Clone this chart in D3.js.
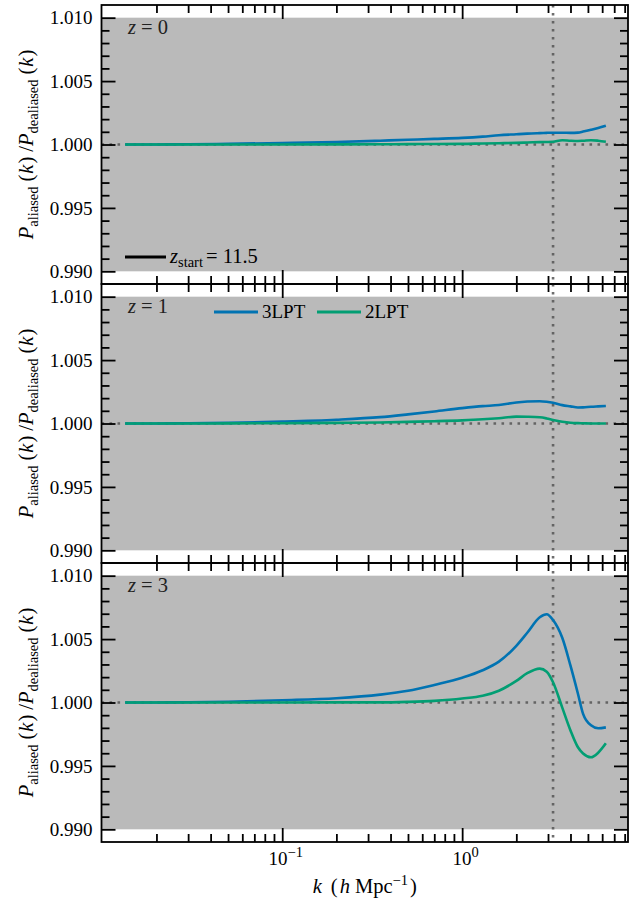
<!DOCTYPE html>
<html>
<head>
<meta charset="utf-8">
<script src="https://cdn.jsdelivr.net/npm/d3@7"></script>
<style>
  html, body { margin: 0; padding: 0; background: #fff; }
  svg { display: block; font-family: "Liberation Serif", "Times New Roman", serif; }
</style>
</head>
<body>
<svg id="chart" width="644" height="902"></svg>
<script>
// ---------------- data ----------------
const kValues = [0.0134, 0.02, 0.03, 0.05, 0.1, 0.2, 0.35, 0.5, 0.7, 1.0, 1.3, 1.6, 2.0, 2.3, 2.7, 2.95, 3.2, 3.6, 4.0, 4.4, 4.7, 5.2, 5.7, 6.29];

const z0_3LPT = [1.0000, 1.0000, 1.00002, 1.00005, 1.00012, 1.00020, 1.00030, 1.00037, 1.00044, 1.00052, 1.00062, 1.00073, 1.00081, 1.00086, 1.00090, 1.00092, 1.00093, 1.00093, 1.00092, 1.00094, 1.00102, 1.00116, 1.00130, 1.00148];
const z0_2LPT = [1.0000, 1.0000, 1.0000, 1.0000, 1.0000, 1.00001, 1.00002, 1.00003, 1.00004, 1.00005, 1.00008, 1.00010, 1.00013, 1.00016, 1.00019, 1.00020, 1.00022, 1.00034, 1.00030, 1.00028, 1.00030, 1.00034, 1.00030, 1.00022];

const z1_3LPT = [1.0000, 1.0000, 1.00002, 1.00005, 1.00015, 1.00030, 1.00050, 1.00072, 1.00095, 1.00121, 1.00137, 1.00146, 1.00166, 1.00173, 1.00176, 1.00172, 1.00164, 1.00145, 1.00135, 1.00126, 1.00127, 1.00132, 1.00135, 1.00138];
const z1_2LPT = [1.0000, 1.0000, 1.0000, 1.00001, 1.00002, 1.00005, 1.00008, 1.00013, 1.00018, 1.00025, 1.00033, 1.00042, 1.00054, 1.00053, 1.00049, 1.00040, 1.00028, 1.00014, 1.00006, 1.00003, 1.00002, 1.0000, 1.0000, 1.0000];

const z3_3LPT = [1.0000, 1.0000, 1.00002, 1.00006, 1.00018, 1.00034, 1.00062, 1.00092, 1.00138, 1.00195, 1.00254, 1.00322, 1.00447, 1.00550, 1.00672, 1.00696, 1.00650, 1.00510, 1.00290, 1.00069, 0.99910, 0.99820, 0.99797, 0.99804];
const z3_2LPT = [1.0000, 1.0000, 1.0000, 1.0000, 1.0000, 1.00001, 1.00001, 1.00005, 1.00013, 1.00031, 1.00053, 1.00093, 1.00170, 1.00231, 1.00267, 1.00243, 1.00160, 0.99960, 0.99780, 0.99647, 0.99598, 0.99568, 0.99604, 0.99678];

const panelLabels = ["0", "1", "3"];
const seriesNames = ["3LPT", "2LPT"];
const zStart = "11.5";
const kNyquist = 3.2;
const referenceValue = 1.0;
const bandRange = [0.990, 1.010];
const yDomain = [0.989, 1.011];
const xDomain = [0.0099, 8.35];
const yMajorTicks = [0.990, 0.995, 1.000, 1.005, 1.010];
const xMajorTicks = [0.1, 1];
const xTickExponents = ["−1", "0"];

const panelData = [
  [z0_3LPT, z0_2LPT],
  [z1_3LPT, z1_2LPT],
  [z3_3LPT, z3_2LPT]
];

// ---------------- layout ----------------
const colors = ["#0173b2", "#029e73"];
const svg = d3.select("#chart");
const L = 101.5, R = 628, T = 5, PH = 279;
const MAJ = 14, MIN = 8;
const FS = 19;     // tick labels
const FL = 20.5;   // labels
const FSUB = 14.5; // sub/superscripts

const x = d3.scaleLog().domain(xDomain).range([L, R]);

const yMinorTicks = d3.range(0, 21).map(i => +(0.990 + i * 0.001).toFixed(3)).filter(v => !yMajorTicks.some(m => Math.abs(m - v) < 1e-9));
const xMinorTicks = [];
[0.01, 0.1, 1].forEach(d => { for (let i = 2; i <= 9; i++) { const v = d * i; if (v > xDomain[0] && v < xDomain[1]) xMinorTicks.push(v); } });

panelData.forEach((series, p) => {
  const top = T + p * PH;
  const y = d3.scaleLinear().domain(yDomain).range([top + PH, top]);
  const g = svg.append("g");

  // gray band
  g.append("rect")
    .attr("x", L).attr("width", R - L)
    .attr("y", y(bandRange[1])).attr("height", y(bandRange[0]) - y(bandRange[1]))
    .attr("fill", "#bababa");

  // dotted reference lines
  g.append("line")
    .attr("x1", L).attr("x2", R)
    .attr("y1", y(referenceValue)).attr("y2", y(referenceValue))
    .attr("stroke", "#555").attr("stroke-opacity", 0.85).attr("stroke-width", 2.6)
    .attr("stroke-dasharray", "2.6,5.4");
  g.append("line")
    .attr("x1", x(kNyquist)).attr("x2", x(kNyquist))
    .attr("y1", top).attr("y2", top + PH)
    .attr("stroke", "#555").attr("stroke-opacity", 0.85).attr("stroke-width", 2.6)
    .attr("stroke-dasharray", "2.6,5.4");

  // curves
  const line = d3.line().x((d, i) => x(kValues[i])).y(d => y(d)).curve(d3.curveMonotoneX);
  series.forEach((vals, s) => {
    g.append("path").datum(vals)
      .attr("d", line)
      .attr("fill", "none")
      .attr("stroke", colors[s])
      .attr("stroke-width", 2.6)
      .attr("stroke-linejoin", "round");
  });

  // axes (ticks inward)
  const styleAxis = sel => {
    sel.select(".domain").remove();
    sel.selectAll(".tick line").attr("stroke", "#000").attr("stroke-width", 1.8);
  };
  g.append("g").attr("transform", `translate(${L},0)`)
    .call(d3.axisLeft(y).tickValues(yMajorTicks).tickSizeInner(-MAJ).tickSizeOuter(0).tickPadding(9).tickFormat(d3.format(".3f")))
    .call(styleAxis)
    .call(a => a.selectAll("text").attr("font-family", "Liberation Serif").attr("font-size", FS).attr("fill", "#000"));
  g.append("g").attr("transform", `translate(${L},0)`)
    .call(d3.axisLeft(y).tickValues(yMinorTicks).tickSizeInner(-MIN).tickSizeOuter(0).tickFormat(""))
    .call(styleAxis);
  g.append("g").attr("transform", `translate(${R},0)`)
    .call(d3.axisRight(y).tickValues(yMajorTicks).tickSizeInner(-MAJ).tickSizeOuter(0).tickFormat(""))
    .call(styleAxis);
  g.append("g").attr("transform", `translate(${R},0)`)
    .call(d3.axisRight(y).tickValues(yMinorTicks).tickSizeInner(-MIN).tickSizeOuter(0).tickFormat(""))
    .call(styleAxis);
  g.append("g").attr("transform", `translate(0,${top})`)
    .call(d3.axisTop(x).tickValues(xMajorTicks).tickSizeInner(-MAJ).tickSizeOuter(0).tickFormat(""))
    .call(styleAxis);
  g.append("g").attr("transform", `translate(0,${top})`)
    .call(d3.axisTop(x).tickValues(xMinorTicks).tickSizeInner(-MIN).tickSizeOuter(0).tickFormat(""))
    .call(styleAxis);
  const bottomMajor = g.append("g").attr("transform", `translate(0,${top + PH})`)
    .call(d3.axisBottom(x).tickValues(xMajorTicks).tickSizeInner(-MAJ).tickSizeOuter(0).tickFormat(""))
    .call(styleAxis);
  g.append("g").attr("transform", `translate(0,${top + PH})`)
    .call(d3.axisBottom(x).tickValues(xMinorTicks).tickSizeInner(-MIN).tickSizeOuter(0).tickFormat(""))
    .call(styleAxis);

  if (p === panelData.length - 1) {
    bottomMajor.selectAll(".tick").each(function(d, i) {
      const t = d3.select(this).append("text")
        .attr("x", 3).attr("y", 23)
        .attr("text-anchor", "middle")
        .attr("fill", "#000")
        .attr("font-size", 19)
        .attr("font-family", "Liberation Serif");
      t.append("tspan").text("10");
      t.append("tspan").attr("dy", -8).attr("font-size", FSUB).text(xTickExponents[i]);
    });
  }

  // frame
  g.append("rect")
    .attr("x", L).attr("y", top).attr("width", R - L).attr("height", PH)
    .attr("fill", "none").attr("stroke", "#000").attr("stroke-width", 1.8);

  // panel label
  const pl = g.append("text")
    .attr("x", 128).attr("y", top + 29)
    .attr("font-size", FL).attr("fill", "#222");
  pl.append("tspan").attr("font-style", "italic").text("z");
  pl.append("tspan").text(" = " + panelLabels[p]);

  // y-axis label
  const cy = top + PH / 2;
  const yl = g.append("text")
    .attr("transform", `translate(33,${cy}) rotate(-90)`)
    .attr("text-anchor", "middle")
    .attr("font-size", FL).attr("fill", "#000");
  yl.append("tspan").attr("font-style", "italic").text("P");
  yl.append("tspan").attr("font-size", FSUB).attr("dy", 4.5).text("aliased");
  yl.append("tspan").attr("dy", -4.5).attr("dx", 5).text("(");
  yl.append("tspan").attr("font-style", "italic").attr("dx", 1).text("k");
  yl.append("tspan").attr("dx", 1).text(")");
  yl.append("tspan").attr("dx", 5).text("/");
  yl.append("tspan").attr("font-style", "italic").text("P");
  yl.append("tspan").attr("font-size", FSUB).attr("dy", 4.5).text("dealiased");
  yl.append("tspan").attr("dy", -4.5).attr("dx", 5).text("(");
  yl.append("tspan").attr("font-style", "italic").attr("dx", 1).text("k");
  yl.append("tspan").attr("dx", 1).text(")");
});

// legend in panel 1: z_start
{
  const lg = svg.append("g");
  lg.append("line").attr("x1", 125).attr("x2", 166).attr("y1", 257).attr("y2", 257)
    .attr("stroke", "#000").attr("stroke-width", 3);
  const t = lg.append("text").attr("x", 170).attr("y", 263).attr("font-size", FL).attr("fill", "#000");
  t.append("tspan").attr("font-style", "italic").text("z");
  t.append("tspan").attr("font-size", FSUB).attr("dy", 3.5).text("start");
  t.append("tspan").attr("dy", -3.5).attr("dx", 3).text("= " + zStart);
}
// legend in panel 2: series
{
  const lg = svg.append("g");
  const pos = [214, 317];
  seriesNames.forEach((name, i) => {
    lg.append("line").attr("x1", pos[i]).attr("x2", pos[i] + 44).attr("y1", 312).attr("y2", 312)
      .attr("stroke", colors[i]).attr("stroke-width", 3);
    lg.append("text").attr("x", pos[i] + 48).attr("y", 318).attr("font-size", FS).attr("fill", "#000").text(name);
  });
}

// x-axis label
{
  const t = svg.append("text").attr("x", (L + R) / 2).attr("y", 893)
    .attr("text-anchor", "middle").attr("font-size", FL).attr("fill", "#000");
  t.append("tspan").attr("font-style", "italic").text("k");
  t.append("tspan").attr("dx", 9).text("(");
  t.append("tspan").attr("font-style", "italic").attr("dx", 2).text("h");
  t.append("tspan").attr("dx", 5).text("Mpc");
  t.append("tspan").attr("font-size", FSUB).attr("dy", -8).text("−1");
  t.append("tspan").attr("dy", 8).attr("dx", 2).text(")");
}
</script>
</body>
</html>
